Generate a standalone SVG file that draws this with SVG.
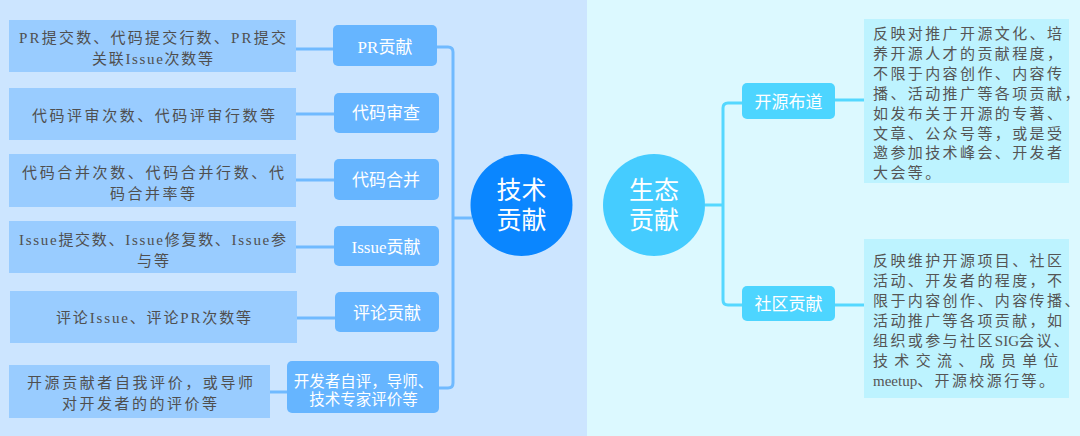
<svg xmlns="http://www.w3.org/2000/svg" width="1080" height="436" viewBox="0 0 1080 436">
<style>
.bt{font-family:"Liberation Serif","Noto Sans CJK SC",serif;font-size:15px;fill:#4f4f4f;text-anchor:middle}
.rt{font-family:"Liberation Serif","Noto Sans CJK SC",serif;font-size:15px;fill:#555;letter-spacing:2.4px}
.lat{letter-spacing:0}
.nt{font-family:"Noto Sans CJK SC","Noto Sans",sans-serif;font-size:17px;fill:#fff;text-anchor:middle}
.nt2{font-family:"Liberation Sans","Noto Sans CJK SC",sans-serif;font-size:15.5px;fill:#fff;text-anchor:middle}
.ns{font-family:"Liberation Serif","Noto Sans CJK SC",serif;font-size:17px;fill:#fff;text-anchor:middle}
.ct{font-family:"Liberation Sans","Noto Sans CJK SC",sans-serif;font-size:25px;fill:#fff;text-anchor:middle}
.lbox{fill:#99ccff}
.lnode{fill:#66b5ff}
.rbox{fill:#bdf3ff}
.rnode{fill:#4dd5ff}
.lc{fill:none;stroke:#70baff;stroke-width:3}
.rc{fill:none;stroke:#55d8ff;stroke-width:3}
</style>
<rect x="0" y="0" width="587" height="436" fill="#cce5ff"/>
<rect x="587" y="0" width="493" height="436" fill="#dcf9ff"/>

<g id="connectors">
<path class="lc" d="M437,47 H448 Q453,47 453,52 V383 Q453,388 448,388 H439"/>
<path class="lc" d="M453,218 H472"/>
<path class="lc" d="M296,49 H333"/>
<path class="lc" d="M296,114 H334"/>
<path class="lc" d="M296,180 H334"/>
<path class="lc" d="M296,247 H334"/>
<path class="lc" d="M297,318 H335"/>
<path class="lc" d="M270,392 H287"/>
<path class="rc" d="M742,103 H728 Q723,103 723,108 V300 Q723,305 728,305 H742"/>
<path class="rc" d="M705,205 H723"/>
<path class="rc" d="M835,100 H864"/>
<path class="rc" d="M835,305 H864"/>
</g>

<g id="tech">
<circle cx="521.5" cy="205" r="51" fill="#0a86ff"/>
<text class="ct" x="521.5" y="199">技术<tspan x="521.5" dy="30">贡献</tspan></text>
</g>
<g id="eco">
<circle cx="654" cy="205" r="51" fill="#45ccff"/>
<text class="ct" x="654" y="199">生态<tspan x="654" dy="30">贡献</tspan></text>
</g>

<g id="n-pr">
<rect class="lnode" x="333" y="25" width="104" height="41" rx="5"/>
<text class="ns" x="385" y="53">PR<tspan font-family="Noto Sans CJK SC,sans-serif">贡献</tspan></text>
</g>
<g id="n-review">
<rect class="lnode" x="334" y="93" width="105" height="40" rx="5"/>
<text class="nt" x="386" y="119">代码审查</text>
</g>
<g id="n-merge">
<rect class="lnode" x="334" y="159" width="105" height="41" rx="5"/>
<text class="nt" x="386" y="186">代码合并</text>
</g>
<g id="n-issue">
<rect class="lnode" x="334" y="226" width="105" height="40" rx="5"/>
<text class="ns" x="386" y="253">Issue<tspan font-family="Noto Sans CJK SC,sans-serif">贡献</tspan></text>
</g>
<g id="n-comment">
<rect class="lnode" x="335" y="292" width="104" height="40" rx="5"/>
<text class="nt" x="387" y="319">评论贡献</text>
</g>
<g id="n-eval">
<rect class="lnode" x="287" y="361" width="152" height="52" rx="5"/>
<text class="nt2" x="363.5" y="387">开发者自评，导师、<tspan x="363.5" dy="17.5">技术专家评价等</tspan></text>
</g>

<g id="b-pr">
<rect class="lbox" x="9" y="20" width="287" height="52"/>
<text class="bt" x="152.5" y="42.5" textLength="267" lengthAdjust="spacing">PR提交数、代码提交行数、PR提交</text>
<text class="bt" x="152.5" y="64" textLength="121" lengthAdjust="spacing">关联Issue次数等</text>
</g>
<g id="b-review">
<rect class="lbox" x="9" y="88" width="287" height="52"/>
<text class="bt" x="153.5" y="120.5" textLength="243" lengthAdjust="spacing">代码评审次数、代码评审行数等</text>
</g>
<g id="b-merge">
<rect class="lbox" x="9" y="154" width="287" height="53"/>
<text class="bt" x="153" y="177.5" textLength="262" lengthAdjust="spacing">代码合并次数、代码合并行数、代</text>
<text class="bt" x="152.5" y="198.5" textLength="85" lengthAdjust="spacing">码合并率等</text>
</g>
<g id="b-issue">
<rect class="lbox" x="9" y="221" width="287" height="52"/>
<text class="bt" x="152.5" y="244.5" textLength="267" lengthAdjust="spacing">Issue提交数、Issue修复数、Issue参</text>
<text class="bt" x="153" y="265.5" textLength="32" lengthAdjust="spacing">与等</text>
</g>
<g id="b-comment">
<rect class="lbox" x="10" y="291" width="287" height="52"/>
<text class="bt" x="153.5" y="322.5" textLength="195" lengthAdjust="spacing">评论Issue、评论PR次数等</text>
</g>
<g id="b-eval">
<rect class="lbox" x="9" y="365" width="261" height="53"/>
<text class="bt" x="140" y="387.5" textLength="226" lengthAdjust="spacing">开源贡献者自我评价，或导师</text>
<text class="bt" x="139.5" y="408.5" textLength="155" lengthAdjust="spacing">对开发者的的评价等</text>
</g>

<g id="n-evang">
<rect class="rnode" x="742" y="83" width="93" height="36" rx="5"/>
<text class="nt" x="788.5" y="108">开源布道</text>
</g>
<g id="n-community">
<rect class="rnode" x="742" y="286" width="93" height="35" rx="5"/>
<text class="nt" x="788.5" y="310">社区贡献</text>
</g>

<g id="b-evang">
<rect class="rbox" x="864" y="19" width="205" height="164"/>
<text class="rt" x="873" y="38.5">反映对推广开源文化、培</text>
<text class="rt" x="873" y="58.5">养开源人才的贡献程度，</text>
<text class="rt" x="873" y="78.5">不限于内容创作、内容传</text>
<text class="rt" x="873" y="98.5">播、活动推广等各项贡献，</text>
<text class="rt" x="873" y="118.5">如发布关于开源的专著、</text>
<text class="rt" x="873" y="138.5">文章、公众号等，或是受</text>
<text class="rt" x="873" y="157.5">邀参加技术峰会、开发者</text>
<text class="rt" x="873" y="177.5">大会等。</text>
</g>
<g id="b-community">
<rect class="rbox" x="864" y="239" width="205" height="159"/>
<text class="rt" x="873" y="265.5">反映维护开源项目、社区</text>
<text class="rt" x="873" y="285.5">活动、开发者的程度，不</text>
<text class="rt" x="873" y="305.5">限于内容创作、内容传播、</text>
<text class="rt" x="873" y="325.5">活动推广等各项贡献，如</text>
<text class="rt" x="873" y="345.5">组织或参与社区<tspan class="lat">SIG</tspan>会议、</text>
<text class="rt" x="873" y="365.5" textLength="188" lengthAdjust="spacing">技术交流、成员单位</text>
<text class="rt" x="873" y="385.5"><tspan class="lat">meetup</tspan>、开源校源行等。</text>
</g>
</svg>
